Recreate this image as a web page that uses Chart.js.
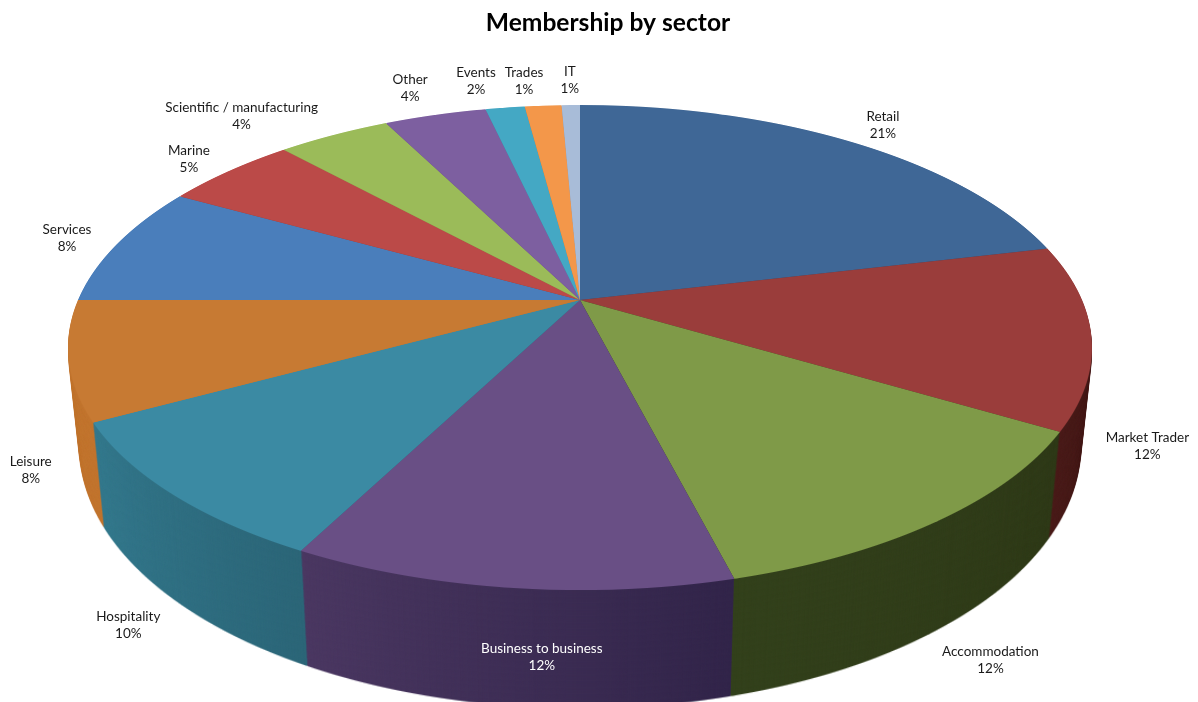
<!DOCTYPE html>
<html>
<head>
<meta charset="utf-8">
<title>Membership by sector</title>
<script src="https://cdn.jsdelivr.net/npm/chart.js@4"></script>
<style>
	html, body { margin: 0; padding: 0; background: #fff; }
	canvas { display: block; }
</style>
</head>
<body>
<canvas id="sectors" width="1198" height="702"></canvas>
<script>
var sectors = ["Retail", "Market Trader", "Accommodation", "Business to business", "Hospitality", "Leisure", "Services", "Marine", "Scientific / manufacturing", "Other", "Events", "Trades", "IT"];
var shares = [21.3, 12.2, 12.49, 11.6, 9.5, 7.9, 8.1, 5.1, 4.3, 3.9, 1.5, 1.4, 0.7];

var topColours = ["#3f6796", "#9a3d3b", "#7f9a48", "#694f85", "#3b8aa3", "#c77a33", "#4a7ebb", "#bb4a48", "#9bbb59", "#7d5fa0", "#44a8c4", "#f3974a", "#a8bcd8"];
// walls are swept clockwise, so along the front each slice runs from its right side to its left
var wallFrom = ["#2c4a6e", "#3a1513", "#2f3a18", "#32254a", "#2c6678", "#c2752f", "#3a6596", "#953a38", "#7c9647", "#644c80", "#36869d", "#c2793b", "#8696ad"];
var wallTo = ["#2c4a6e", "#4a1c1a", "#33411c", "#4b3862", "#34798d", "#c2752f", "#3a6596", "#953a38", "#7c9647", "#644c80", "#36869d", "#c2793b", "#8696ad"];

// label nudges from the rim point at each slice's middle, in page pixels
var labelNudgeX = [33, 56, 53, 32, -43, -38, -50, -40, -92, -25, -29, -19, -1];
var labelNudgeY = [-16, 110, 139, 69, 132, 110, -6, -12, -19, -27, -26, -25, -25];
var labelColours = ["#1a1a1a", "#1a1a1a", "#1a1a1a", "#ffffff", "#1a1a1a", "#1a1a1a", "#1a1a1a", "#1a1a1a", "#1a1a1a", "#1a1a1a", "#1a1a1a", "#1a1a1a", "#1a1a1a"];

// perspective of the top face: apex on the page, then width, height and tilt of the disc
var apexX = 580, apexY = 300;
var discW = 502, discH = 233.2, tilt = -0.196;
// the bottom rim of the wall, as a change of the top rim
var wallDrop = 95, wallShrink = 0.022, wallStretch = 0.08, wallSteps = 100;

// draws the arc elements through horizontal strips so the flat pie gets a real perspective
function drawDisc(ctx, arcs, fill) {
	var R = arcs[0].outerRadius, cx = arcs[0].x, cy = arcs[0].y;
	for (var y = 95; y < 600; y++) {
		var dy = y + 0.5 - apexY;
		var v = dy / (discH - tilt * dy);
		var w = 1 + tilt * v;
		var a = discW / (w * R);
		var d = discH / (w * w * R);
		ctx.save();
		ctx.beginPath();
		ctx.rect(0, y, ctx.canvas.width, 1);
		ctx.clip();
		ctx.setTransform(a, 0, 0, d, apexX - a * cx, y + 0.5 - d * (cy + R * v));
		arcs.forEach(function(arc, i) {
			var own = arc.options;
			arc.options = Object.assign({}, own, {
				backgroundColor : fill(ctx, arc, i),
				borderWidth : 0
			});
			arc.draw(ctx);
			arc.options = own;
		});
		ctx.restore();
	}
}

function wallGradient(ctx, arcs) {
	var grad = ctx.createConicGradient(-Math.PI / 2, arcs[0].x, arcs[0].y);
	var total = shares.reduce(function(s, x) { return s + x; }, 0);
	var sum = 0;
	shares.forEach(function(x, i) {
		grad.addColorStop(sum / total, wallFrom[i]);
		sum += x;
		grad.addColorStop(sum / total, wallTo[i]);
	});
	return grad;
}

var pie3d = {
	id : "pie3d",
	beforeDatasetsDraw : function(chart) {
		var ctx = chart.ctx;
		var arcs = chart.getDatasetMeta(0).data;

		var sheet = document.createElement("canvas");
		sheet.width = chart.width;
		sheet.height = chart.height;
		var sheetCtx = sheet.getContext("2d");
		var grad = wallGradient(sheetCtx, arcs);
		drawDisc(sheetCtx, arcs, function() { return grad; });

		ctx.save();
		for (var s = wallSteps; s >= 1; s--) {
			var t = s / wallSteps;
			var sx = 1 - wallShrink * t, sy = 1 + wallStretch * t;
			ctx.setTransform(sx, 0, 0, sy, apexX * (1 - sx), apexY + wallDrop * t - sy * apexY);
			ctx.drawImage(sheet, 0, 0);
		}
		ctx.restore();

		drawDisc(ctx, arcs, function(c, arc, i) { return topColours[i]; });
		return false;
	},
	afterDraw : function(chart) {
		var ctx = chart.ctx;
		var arcs = chart.getDatasetMeta(0).data;
		var total = shares.reduce(function(s, x) { return s + x; }, 0);
		ctx.save();
		ctx.font = "13.5px Lato";
		ctx.textAlign = "center";
		ctx.textBaseline = "middle";
		arcs.forEach(function(arc, i) {
			var mid = (arc.startAngle + arc.endAngle) / 2;
			var u = Math.cos(mid), v = Math.sin(mid);
			var w = 1 + tilt * v;
			var x = apexX + discW * u / w + labelNudgeX[i];
			var y = apexY + discH * v / w + labelNudgeY[i];
			ctx.fillStyle = labelColours[i];
			ctx.fillText(sectors[i], x, y - 8.5);
			ctx.fillText(Math.round(shares[i] / total * 100) + "%", x, y + 8.5);
		});
		ctx.restore();
	}
};

var chart = new Chart(document.getElementById("sectors"), {
	type : "pie",
	data : {
		labels : sectors,
		datasets : [
			{
				data : shares,
				backgroundColor : topColours,
				borderWidth : 0
			}
		]
	},
	options : {
		responsive : false,
		animation : false,
		devicePixelRatio : 1,
		events : [],
		layout : { padding : { left : 18 } },
		plugins : {
			legend : { display : false },
			tooltip : { enabled : false },
			title : {
				display : true,
				text : "Membership by sector",
				color : "#000",
				font : { family : "Lato", size : 24.6, weight : "bold" },
				padding : { top : 8, bottom : 10 }
			}
		}
	},
	plugins : [pie3d]
});
</script>
</body>
</html>
